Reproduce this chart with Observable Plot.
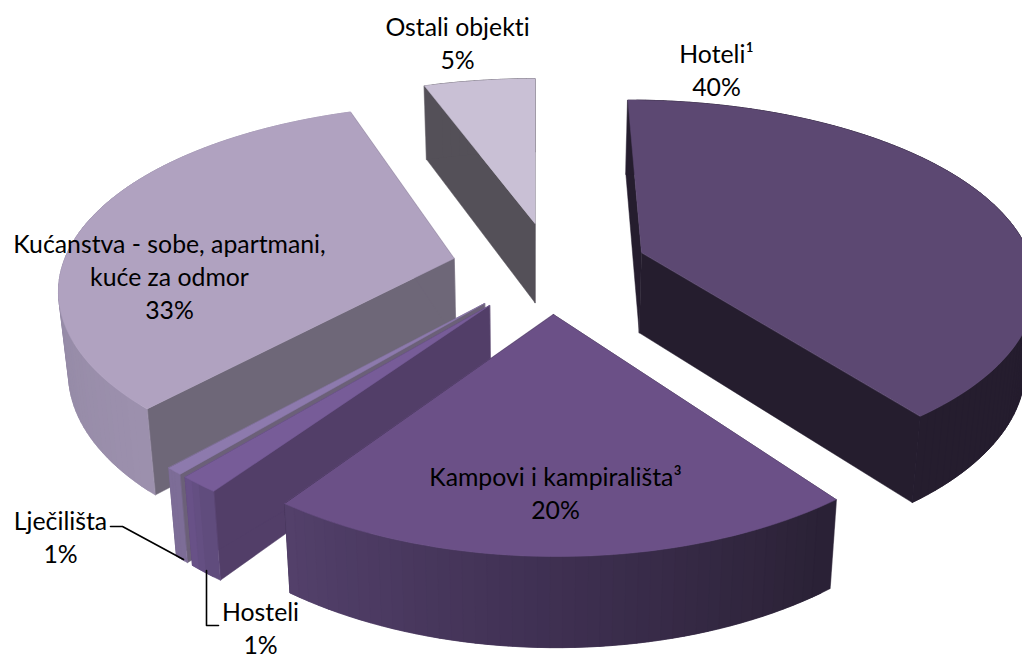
<!DOCTYPE html>
<html>
<head>
<meta charset="utf-8">
<script src="https://cdn.jsdelivr.net/npm/d3@7"></script>
<script src="https://cdn.jsdelivr.net/npm/@observablehq/plot@0.6"></script>
<style>html,body{margin:0;padding:0;background:#fff}svg{display:block}svg text{font-variant-ligatures:none}</style>
</head>
<body>
<div id="chart"></div>
<script>
// data
const categories = ["Hoteli¹", "Kampovi i kampirališta³", "Hosteli", "Lječilišta", "Kućanstva - sobe, apartmani,\nkuće za odmor", "Ostali objekti"];
const shares = [39.7, 20.2, 1.4, 0.6, 32.7, 5.4];

// styling of each slice
const topColors = ["#5C4872", "#6B5087", "#775C98", "#8D7AAD", "#B0A2C0", "#C9C0D5"];
const rimFrom = ["#251D2E", "#2A2135", "#5E4A7A", "#7D6D97", "#9C90AD", "#545058"];
const rimMid = ["#251D2E", "#3F3052", "#665084", "#7D6D97", "#8F86A1", "#545058"];
const rimTo = ["#251D2E", "#54416C", "#6E5490", "#7D6D97", "#ACA2B9", "#545058"];
const cutColors = ["#251D2E", "#251D2E", "#523E68", "#6B6078", "#6E6778", "#545058"];
const paintOrder = [5, 0, 4, 3, 2, 1];
// where each exploded slice's tip sits, in pixels
const tipX = [641, 553, 489, 484, 453.5, 534.5];
const tipY = [252, 314, 305, 303, 258, 223];

// label layout
const labelX = [716, 555, 260, 60, 169, 457];
const labelY = [68, 491, 626, 535, 275, 41];
const leaderRows = [
  {id: "Lječilišta", px: 110, py: 526}, {id: "Lječilišta", px: 122, py: 526}, {id: "Lječilišta", px: 183, py: 559},
  {id: "Hosteli", px: 206, py: 570}, {id: "Hosteli", px: 206, py: 625}, {id: "Hosteli", px: 218, py: 625}
];

// perspective of the tilted pie
const vx = 535, vy = 270, R = 393, Rb = 184, p = 0.17, pX = 0.15, H = 81, taper = 0.021;
const toWorld = (sx, sy) => {
  const dy = sy - vy, Y = dy / (Rb + p * dy);
  return [(sx - vx) * (1 - pX * Y) / R, Y];
};
const upper = (X, Y) => {
  const s = 1 / (1 - p * Y);
  return {x: vx + R * X / (1 - pX * Y), y: vy + Rb * Y * s, s};
};
const lower = (q) => ({x: q.x - (q.x - vx) * taper, y: q.y + H * Math.sqrt(q.s)});

const faces = [];
let faceId = 0;
const addFace = (pts, color) => {
  const id = faceId++;
  for (const q of pts) faces.push({id, x: q.x, y: q.y, color});
};

const total = d3.sum(shares);
let acc = 0;
const spans = shares.map((v) => {
  const a0 = acc / total * 2 * Math.PI;
  acc += v;
  return [a0, acc / total * 2 * Math.PI];
});

for (const i of paintOrder) {
  const [a0, a1] = spans[i];
  const [ox, oy] = toWorld(tipX[i], tipY[i]);
  const n = Math.max(4, Math.round((a1 - a0) / (2 * Math.PI) * 240));
  const rim = d3.range(n + 1).map((k) => {
    const a = a0 + (a1 - a0) * k / n;
    return upper(ox + Math.sin(a), oy - Math.cos(a));
  });
  const tip = upper(ox, oy);
  const shade = d3.piecewise(d3.interpolateRgb, [rimFrom[i], rimMid[i], rimTo[i]]);
  addFace([tip, rim[0], lower(rim[0]), lower(tip)], cutColors[i]);
  addFace([tip, rim[n], lower(rim[n]), lower(tip)], cutColors[i]);
  // each strip overlaps the next one so that no seam shows
  for (let k = n - 1; k >= 0; k--) {
    const e = Math.min(k + 2, n);
    const mid = rim.slice(k, e + 1);
    addFace([...mid, ...mid.map(lower).reverse()], shade((k + 0.5) / n));
  }
  addFace([tip, ...rim], topColors[i]);
}

const labels = categories.map((c, i) => ({
  text: c + "\n" + Math.round(shares[i]) + "%",
  px: labelX[i], py: labelY[i]
}));

const chart = Plot.plot({
  width: 1022, height: 660, margin: 0,
  x: {domain: [0, 1022], range: [0, 1022], axis: null},
  y: {domain: [0, 660], range: [0, 660], axis: null},
  color: {type: "identity"},
  style: {background: "#fff"},
  marks: [
    Plot.line(faces, {x: "x", y: "y", z: "id", fill: "color", stroke: "color", strokeWidth: 0.5, curve: "linear-closed"}),
    Plot.line(leaderRows, {x: "px", y: "py", z: "id", stroke: "#000", strokeWidth: 1.6}),
    Plot.text(labels, {x: "px", y: "py", text: "text", fontSize: 24.8, lineHeight: 1.33, fontFamily: "Lato", fill: "#000"})
  ]
});
document.getElementById("chart").appendChild(chart);
</script>
</body>
</html>
